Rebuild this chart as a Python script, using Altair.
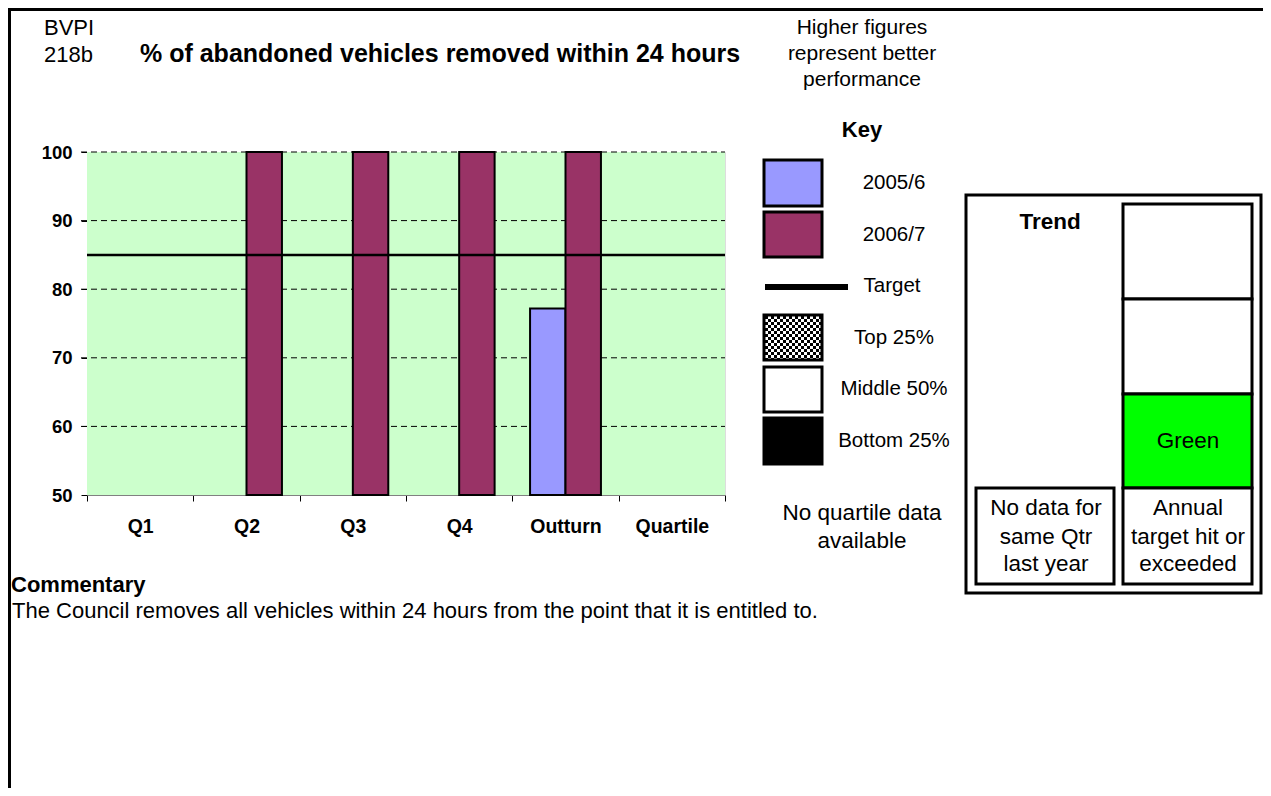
import altair as alt
import pandas as pd

# ---------------- data ----------------
periods = ["Q1", "Q2", "Q3", "Q4", "Outturn", "Quartile"]
series = ["2005/6", "2006/7"]
values_2005 = [None, None, None, None, 77.2, None]
values_2006 = [None, 100, 100, 100, 100, None]
target = 85
y_ticks = [50, 60, 70, 80, 90, 100]
grid_values = [60, 70, 80, 90, 100]
y_domain = [50, 100]
series_colors = ["#9999FF", "#993366"]

rows = []
for p, a, b in zip(periods, values_2005, values_2006):
    if a is not None:
        rows.append({"period": p, "year": series[0], "value": a})
    if b is not None:
        rows.append({"period": p, "year": series[1], "value": b})
bars_df = pd.DataFrame(rows)
grid_df = pd.DataFrame({"value": grid_values})

# ---------------- layout (page pixel coords) ----------------
OX, OY = 87, 152          # page position of the plot origin
PLOT_W, PLOT_H = 638, 343
PAD = {"left": 79, "top": 144, "right": 538, "bottom": 293}
FONT = "Liberation Sans"


def px(X):
    return X - OX


def py(Y):
    return Y - OY


one = alt.Data(values=[{"a": 1}])

# decorative rectangles in page coords
deco_rows = []


def box(x0, y0, x1, y1, fill, sw):
    deco_rows.append({"x": px(x0), "x2": px(x1), "y": py(y0), "y2": py(y1),
                      "fill": fill, "sw": sw})


# outer page frame (top and left edges)
box(8, 8, 1263, 11, "black", 0)
box(8, 8, 11, 900, "black", 0)

# legend key swatches
box(764, 160, 822, 206, series_colors[0], 3)
box(764, 212, 822, 257, series_colors[1], 3)
box(765, 284, 848, 290, "black", 0)            # target line sample
box(764, 315, 822, 360, "white", 0)            # checker base
cell = 3
cx0, cy0, cx1, cy1 = 765, 316, 821, 359
i = 0
x = cx0
while x < cx1:
    j = 0
    y = cy0
    while y < cy1:
        if (i + j) % 2 == 0:
            box(x, y, min(x + cell, cx1), min(y + cell, cy1), "black", 0)
        y += cell
        j += 1
    x += cell
    i += 1
box(764, 315, 822, 360, "transparent", 3)
box(764, 367, 822, 412, "white", 3)
box(764, 418, 822, 464, "black", 3)

# trend panel
box(966, 195, 1261, 593, "white", 3)
box(1123, 204, 1252, 299, "white", 3)
box(1123, 299, 1252, 394, "white", 3)
box(1123, 394, 1252, 488, "#00FF00", 3)
box(1123, 488, 1252, 584, "white", 3)
box(976, 488, 1114, 584, "white", 3)

deco_df = pd.DataFrame(deco_rows)

deco = alt.Chart(deco_df).mark_rect(stroke="black").encode(
    x=alt.X("x:Q", scale=None, axis=None),
    x2="x2:Q",
    y=alt.Y("y:Q", scale=None, axis=None),
    y2="y2:Q",
    fill=alt.Fill("fill:N", scale=None, legend=None),
    strokeWidth=alt.StrokeWidth("sw:Q", scale=None, legend=None),
)

# ---------------- texts ----------------
texts = [
    # (text, X, Y, size, bold, align)
    ("BVPI", 44, 28, 22, False, "left"),
    ("218b", 44, 55, 22, False, "left"),
    ("% of abandoned vehicles removed within 24 hours", 140, 54, 25, True, "left"),
    ("Higher figures", 862, 28, 21, False, "center"),
    ("represent better", 862, 54, 21, False, "center"),
    ("performance", 862, 80, 21, False, "center"),
    ("Key", 862, 130, 22, True, "center"),
    ("2005/6", 894, 183, 20.5, False, "center"),
    ("2006/7", 894, 235, 20.5, False, "center"),
    ("Target", 892, 286, 20.5, False, "center"),
    ("Top 25%", 894, 338, 20.5, False, "center"),
    ("Middle 50%", 894, 389, 20.5, False, "center"),
    ("Bottom 25%", 894, 441, 20.5, False, "center"),
    ("No quartile data", 862, 513, 22.5, False, "center"),
    ("available", 862, 541, 22.5, False, "center"),
    ("Trend", 1050, 222, 22.5, True, "center"),
    ("Green", 1188, 441, 22.5, False, "center"),
    ("No data for", 1046, 508, 22.5, False, "center"),
    ("same Qtr", 1046, 537, 22.5, False, "center"),
    ("last year", 1046, 564, 22.5, False, "center"),
    ("Annual", 1188, 508, 22.5, False, "center"),
    ("target hit or", 1188, 537, 22.5, False, "center"),
    ("exceeded", 1188, 564, 22.5, False, "center"),
    ("Commentary", 11, 585, 22, True, "left"),
    ("The Council removes all vehicles within 24 hours from the point that it is entitled to.",
     12, 611, 22, False, "left"),
]

text_layers = []
for t, X, Y, s, b, al in texts:
    text_layers.append(
        alt.Chart(one).mark_text(
            text=t, fontSize=s, fontWeight="bold" if b else "normal",
            align=al, baseline="middle", color="black", font=FONT,
        ).encode(x=alt.value(px(X)), y=alt.value(py(Y)))
    )

# ---------------- main chart ----------------
y_scale = alt.Scale(domain=y_domain, nice=False, zero=False)

x_enc = alt.X(
    "period:N",
    sort=periods,
    scale=alt.Scale(domain=periods, paddingInner=0, paddingOuter=0),
    axis=alt.Axis(
        title=None, labelAngle=0, labelFontWeight="bold", labelFontSize=19.5,
        labelColor="black", labelPadding=16, tickBand="extent", tickSize=6,
        tickColor="black", domainColor="#808080", grid=False, labelFont=FONT,
    ),
)
y_enc = alt.Y(
    "value:Q",
    scale=y_scale,
    axis=alt.Axis(
        title=None, values=y_ticks, labelFontWeight="bold", labelFontSize=18.5,
        labelColor="black", labelPadding=9, tickSize=6, tickColor="black",
        domainColor="#808080", grid=False, labelFont=FONT,
    ),
)

# plot-area background (light green), spanning the y domain
background = alt.Chart(one).mark_rect(fill="#CCFFCC").encode(
    x=alt.value(0), x2=alt.value(PLOT_W),
    y=alt.datum(y_domain[1], scale=y_scale), y2=alt.datum(y_domain[0]),
)

# dashed gridlines (drawn through the y scale, extending over the tick area)
grid = alt.Chart(grid_df).mark_rule(color="black", strokeWidth=1, strokeDash=[6, 4]).encode(
    y=alt.Y("value:Q", scale=y_scale),
    x=alt.value(-6), x2=alt.value(PLOT_W),
)

bars = alt.Chart(bars_df).mark_bar(stroke="black", strokeWidth=2).encode(
    x=x_enc,
    xOffset=alt.XOffset("year:N", scale=alt.Scale(domain=series, paddingInner=0, paddingOuter=0.5)),
    y=y_enc,
    y2=alt.datum(50),
    color=alt.Color("year:N", scale=alt.Scale(domain=series, range=series_colors), legend=None),
)

target_rule = alt.Chart(one).mark_rule(color="black", strokeWidth=2.5).encode(
    y=alt.datum(target)
)

chart = alt.layer(background, grid, deco, bars, target_rule, *text_layers).properties(
    width=PLOT_W,
    height=PLOT_H,
    padding=PAD,
    autosize=alt.AutoSizeParams(type="none"),
    background="white",
).configure_view(
    stroke=None
).configure(font=FONT)

chart.save("out.html", embed_options={"renderer": "svg", "actions": False})
